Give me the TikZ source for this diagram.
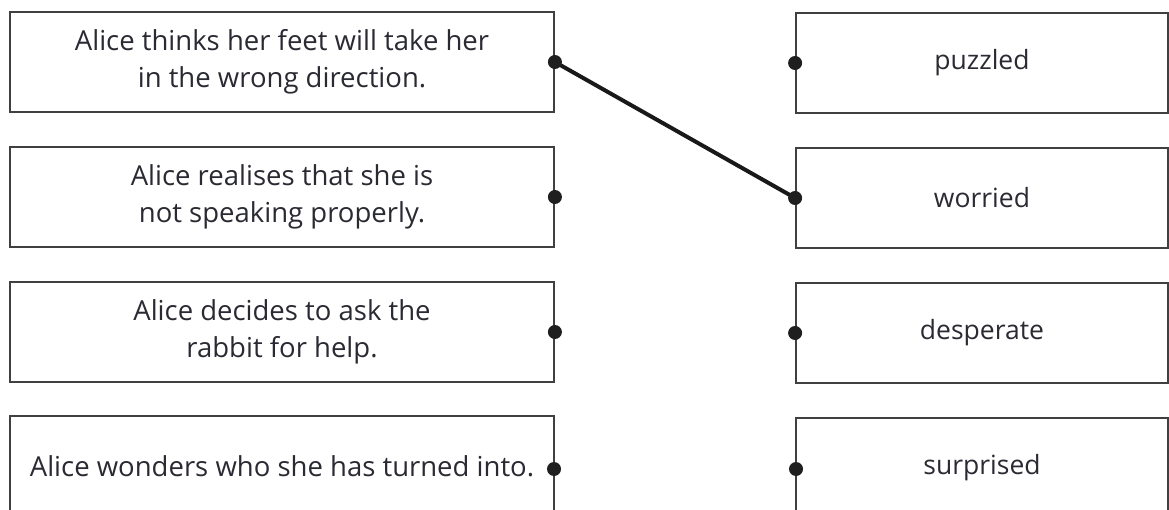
\documentclass[tikz,border=0pt]{standalone}
\usepackage{fontspec}
\setmainfont{Open Sans}
\definecolor{inkc}{HTML}{2A2A33}
\begin{document}
\begin{tikzpicture}[x=1pt,y=-1pt,
  card/.style={draw=black!75, line width=1.8pt, minimum height=100pt, inner sep=0pt,
    align=center, font=\fontsize{27.5}{37}\selectfont, text=inkc},
  leftcard/.style={card, minimum width=544pt},
  rightcard/.style={card, minimum width=372pt, font=\fontsize{26.5}{37}\selectfont},
  dot/.style={circle, fill=black!88, inner sep=0pt, minimum size=14pt},
  link/.style={line width=4pt, black!90}]
\useasboundingbox (0,0) rectangle (1169,510);
\clip (0,0) rectangle (1169,510);
\node[leftcard] (l1) at (282,62) {Alice thinks her feet will take her\\in the wrong direction.};
\node[leftcard] (l2) at (282,197) {Alice realises that she is\\not speaking properly.};
\node[leftcard] (l3) at (282,332) {Alice decides to ask the\\rabbit for help.};
\node[leftcard] (l4) at (282,466) {Alice wonders who she has turned into.};
\node[rightcard] (r1) at (982,63) {puzzled};
\node[rightcard] (r2) at (982,198) {worried};
\node[rightcard] (r3) at (982,333) {desperate};
\node[rightcard] (r4) at (982,468) {surprised};
\draw[link] (l1.east) -- (r2.west);
\foreach \n in {l1,l2,l3} \node[dot] at (\n.east) {};
\node[dot] at (554,469) {};
\foreach \n in {r1,r2,r3} \node[dot] at (\n.west) {};
\node[dot] at (796,469) {};
\end{tikzpicture}
\end{document}
